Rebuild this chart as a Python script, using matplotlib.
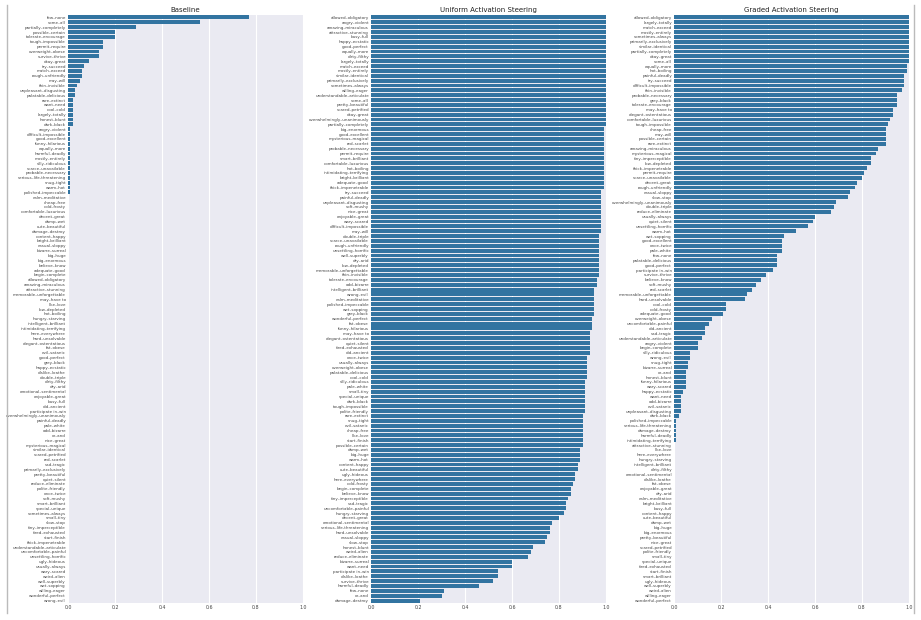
import matplotlib
matplotlib.use("Agg")
import matplotlib.pyplot as plt
from matplotlib.lines import Line2D

D = "\u2013"

baseline_labels = [
    "few-none", "some-all", "partially-completely", "possible-certain", "tolerate-encourage",
    "tough-impossible", "permit-require", "overweight-obese", "survive-thrive", "okay-great",
    "try-succeed", "match-exceed", "rough-unfriendly", "may-will", "thin-invisible",
    "unpleasant-disgusting", "palatable-delicious", "rare-extinct", "want-need", "cool-cold",
    "largely-totally", "honest-blunt", "dark-black", "angry-violent", "difficult-impossible",
    "good-excellent", "funny-hilarious", "equally-more", "harmful-deadly", "mostly-entirely",
    "silly-ridiculous", "scarce-unavailable", "probable-necessary", "serious-life-threatening",
    "snug-tight", "warm-hot", "polished-impeccable", "calm-meditative", "cheap-free",
    "cold-frosty", "comfortable-luxurious", "decent-great", "damp-wet", "cute-beautiful",
    "damage-destroy", "content-happy", "bright-brilliant", "casual-sloppy", "bizarre-surreal",
    "big-huge", "big-enormous", "believe-know", "adequate-good", "begin-complete",
    "allowed-obligatory", "amazing-miraculous", "attractive-stunning", "memorable-unforgettable",
    "may-have to", "like-love", "low-depleted", "hot-boiling", "hungry-starving",
    "intelligent-brilliant", "intimidating-terrifying", "here-everywhere", "hard-unsolvable",
    "elegant-ostentatious", "fat-obese", "evil-satanic", "good-perfect", "grey-black",
    "happy-ecstatic", "dislike-loathe", "double-triple", "dirty-filthy", "dry-arid",
    "emotional-sentimental", "enjoyable-great", "busy-full", "old-ancient",
    "participate in-win", "overwhelmingly-unanimously", "painful-deadly", "pale-white",
    "odd-bizarre", "or-and", "nice-great", "mysterious-magical", "similar-identical",
    "scared-petrified", "red-scarlet", "sad-tragic", "primarily-exclusively",
    "pretty-beautiful", "quiet-silent", "reduce-eliminate", "polite-friendly", "once-twice",
    "soft-mushy", "smart-brilliant", "special-unique", "sometimes-always", "small-tiny",
    "slow-stop", "tiny-imperceptible", "tired-exhausted", "start-finish",
    "thick-impenetrable", "understandable-articulate", "uncomfortable-painful",
    "unsettling-horrific", "ugly-hideous", "usually-always", "wary-scared", "weird-alien",
    "well-superbly", "wet-sopping", "willing-eager", "wonderful-perfect", "wrong-evil",
]
baseline_values = [
    0.77, 0.56, 0.29, 0.20, 0.20, 0.15, 0.15, 0.13, 0.13, 0.09,
    0.07, 0.06, 0.06, 0.05, 0.04, 0.03, 0.03, 0.02, 0.02, 0.02,
    0.02, 0.02, 0.02, 0.01, 0.01, 0.01, 0.01, 0.01, 0.01, 0.01,
    0.01, 0.01, 0.01, 0.01, 0.01, 0.01, 0.01,
] + [0.0] * 84

uniform_labels = [
    "allowed-obligatory", "angry-violent", "amazing-miraculous", "attractive-stunning",
    "busy-full", "happy-ecstatic", "good-perfect", "equally-more", "dirty-filthy",
    "largely-totally", "match-exceed", "mostly-entirely", "similar-identical",
    "primarily-exclusively", "sometimes-always", "willing-eager", "understandable-articulate",
    "some-all", "pretty-beautiful", "scared-petrified", "okay-great",
    "overwhelmingly-unanimously", "partially-completely",
    "big-enormous", "good-excellent", "mysterious-magical", "red-scarlet",
    "probable-necessary", "permit-require", "smart-brilliant", "comfortable-luxurious",
    "hot-boiling", "intimidating-terrifying", "bright-brilliant", "adequate-good",
    "thick-impenetrable",
    "try-succeed", "painful-deadly", "unpleasant-disgusting", "soft-mushy", "nice-great",
    "enjoyable-great", "wary-scared", "difficult-impossible", "may-will",
    "double-triple", "scarce-unavailable", "rough-unfriendly", "unsettling-horrific",
    "well-superbly", "dry-arid", "low-depleted", "memorable-unforgettable", "thin-invisible",
    "tolerate-encourage", "odd-bizarre",
    "intelligent-brilliant", "wrong-evil", "calm-meditative", "polished-impeccable",
    "wet-sopping", "grey-black",
    "wonderful-perfect", "fat-obese", "funny-hilarious",
    "may-have to", "elegant-ostentatious", "quiet-silent", "tired-exhausted", "old-ancient",
    "once-twice", "usually-always", "overweight-obese", "palatable-delicious", "cool-cold",
    "silly-ridiculous", "pale-white", "small-tiny", "special-unique", "dark-black",
    "tough-impossible", "polite-friendly",
    "rare-extinct", "snug-tight", "evil-satanic", "cheap-free", "like-love", "start-finish",
    "possible-certain",
    "damp-wet", "big-huge", "warm-hot", "content-happy", "cute-beautiful", "ugly-hideous",
    "here-everywhere", "cold-frosty", "begin-complete", "believe-know",
    "tiny-imperceptible", "sad-tragic", "uncomfortable-painful", "hungry-starving",
    "decent-great", "emotional-sentimental", "serious-life-threatening", "hard-unsolvable",
    "casual-sloppy", "slow-stop", "honest-blunt", "weird-alien", "reduce-eliminate",
    "bizarre-surreal", "want-need", "participate in-win", "dislike-loathe", "survive-thrive",
    "harmful-deadly", "few-none", "or-and", "damage-destroy",
]
uniform_values = (
    [1.00] * 23 + [0.99] * 13 + [0.98] * 9 + [0.97] * 9 + [0.96] * 2 + [0.95] * 6
    + [0.94] * 3 + [0.93] * 5 + [0.92] * 5 + [0.91] * 7 + [0.90] * 7
    + [0.89, 0.89, 0.89, 0.88, 0.88, 0.87, 0.87, 0.86, 0.85, 0.85,
       0.84, 0.83, 0.83, 0.82, 0.80, 0.77, 0.76, 0.76, 0.75, 0.74,
       0.69, 0.68, 0.67, 0.60, 0.60, 0.54, 0.54, 0.52, 0.46, 0.31, 0.30, 0.21]
)

graded_labels = [
    "allowed-obligatory", "largely-totally", "match-exceed", "mostly-entirely",
    "sometimes-always", "primarily-exclusively", "similar-identical", "partially-completely",
    "okay-great", "some-all", "equally-more", "hot-boiling", "painful-deadly", "try-succeed",
    "difficult-impossible", "thin-invisible", "probable-necessary", "grey-black",
    "tolerate-encourage", "may-have to", "elegant-ostentatious", "comfortable-luxurious",
    "tough-impossible", "cheap-free", "may-will", "possible-certain", "rare-extinct",
    "amazing-miraculous", "mysterious-magical", "tiny-imperceptible", "low-depleted",
    "thick-impenetrable", "permit-require", "scarce-unavailable", "decent-great",
    "rough-unfriendly", "casual-sloppy", "slow-stop", "overwhelmingly-unanimously",
    "double-triple", "reduce-eliminate", "usually-always", "quiet-silent",
    "unsettling-horrific", "warm-hot", "wet-sopping", "good-excellent", "once-twice",
    "pale-white", "few-none", "palatable-delicious", "good-perfect", "participate in-win",
    "survive-thrive", "believe-know", "soft-mushy", "red-scarlet", "memorable-unforgettable",
    "hard-unsolvable", "cool-cold", "cold-frosty", "adequate-good", "overweight-obese",
    "uncomfortable-painful", "old-ancient", "sad-tragic", "understandable-articulate",
    "angry-violent", "begin-complete", "silly-ridiculous", "wrong-evil", "snug-tight",
    "bizarre-surreal", "or-and", "honest-blunt", "funny-hilarious", "wary-scared",
    "happy-ecstatic", "want-need", "odd-bizarre", "evil-satanic", "unpleasant-disgusting",
    "dark-black", "polished-impeccable", "serious-life-threatening", "damage-destroy",
    "harmful-deadly", "intimidating-terrifying", "attractive-stunning", "like-love",
    "here-everywhere", "hungry-starving", "intelligent-brilliant", "dirty-filthy",
    "emotional-sentimental", "dislike-loathe", "fat-obese", "enjoyable-great", "dry-arid",
    "calm-meditative", "bright-brilliant", "busy-full", "content-happy", "cute-beautiful",
    "damp-wet", "big-huge", "big-enormous", "pretty-beautiful", "nice-great",
    "scared-petrified", "polite-friendly", "small-tiny", "special-unique", "tired-exhausted",
    "start-finish", "smart-brilliant", "ugly-hideous", "well-superbly", "weird-alien",
    "willing-eager", "wonderful-perfect",
]
graded_values = (
    [1.00] * 10
    + [0.99, 0.99, 0.98, 0.98, 0.98, 0.97, 0.95, 0.95, 0.95, 0.93,
       0.93, 0.92, 0.91, 0.90, 0.90, 0.90, 0.90, 0.87, 0.86, 0.84,
       0.84, 0.82, 0.81, 0.80, 0.78, 0.77, 0.75, 0.74, 0.69, 0.68,
       0.67, 0.60, 0.59, 0.57, 0.52, 0.47, 0.46, 0.46, 0.46, 0.44,
       0.44, 0.44, 0.42, 0.39, 0.37, 0.35, 0.33, 0.31, 0.30, 0.22,
       0.22, 0.21, 0.16, 0.15, 0.13, 0.13, 0.12, 0.10, 0.10, 0.07,
       0.07, 0.06, 0.06, 0.05, 0.05, 0.05, 0.05, 0.04, 0.03, 0.03,
       0.03, 0.03, 0.02, 0.01, 0.01, 0.01, 0.01, 0.01]
    + [0.0] * 33
)

titles = ["Baseline", "Uniform Activation Steering", "Graded Activation Steering"]
xticks = [0.0, 0.2, 0.4, 0.6, 0.8, 1.0]

panels = [
    (baseline_labels, baseline_values),
    (uniform_labels, uniform_values),
    (graded_labels, graded_values),
]

plt.rcParams["font.family"] = ["DejaVu Sans"]
fig = plt.figure(figsize=(9.21, 6.2), dpi=100)
fig.patch.set_facecolor("white")

lefts = [68 / 921, 371 / 921, 674 / 921]
width = 235 / 921
bottom = 1 - 603 / 620
height = (603 - 15) / 620

for (labels, values), title, left in zip(panels, titles, lefts):
    ax = fig.add_axes([left, bottom, width, height])
    ax.set_facecolor("#EAEAF2")
    for s in ax.spines.values():
        s.set_visible(False)
    labs = [l.replace("-", D, 1) if not l.startswith("serious") else "serious" + D + "life-threatening"
            for l in labels]
    y = list(range(len(values)))
    ax.barh(y, values, height=0.8, color="#3274A1", zorder=2)
    ax.set_ylim(len(values) - 0.5, -0.5)
    ax.set_xlim(0, 1.0)
    ax.set_yticks(y)
    ax.set_yticklabels(labs, fontsize=2.9, color="#444444")
    ax.set_xticks(xticks)
    ax.set_xticklabels([f"{t:.1f}" for t in xticks], fontsize=3.4, color="#444444")
    ax.tick_params(length=0, pad=1.5)
    ax.grid(axis="x", color="white", linewidth=0.8, zorder=0)
    ax.set_axisbelow(True)
    ax.set_title(title, fontsize=5.0, pad=2.5, color="#222222")

fig.add_artist(Line2D([7 / 921, 7 / 921], [1 - 5 / 620, 1 - 613 / 620],
                      color="#bbbbbb", linewidth=1.0, transform=fig.transFigure))
fig.add_artist(Line2D([914 / 921, 914 / 921], [1 - 5 / 620, 1 - 613 / 620],
                      color="#bbbbbb", linewidth=1.0, transform=fig.transFigure))

fig.savefig("out.png", dpi=100)
